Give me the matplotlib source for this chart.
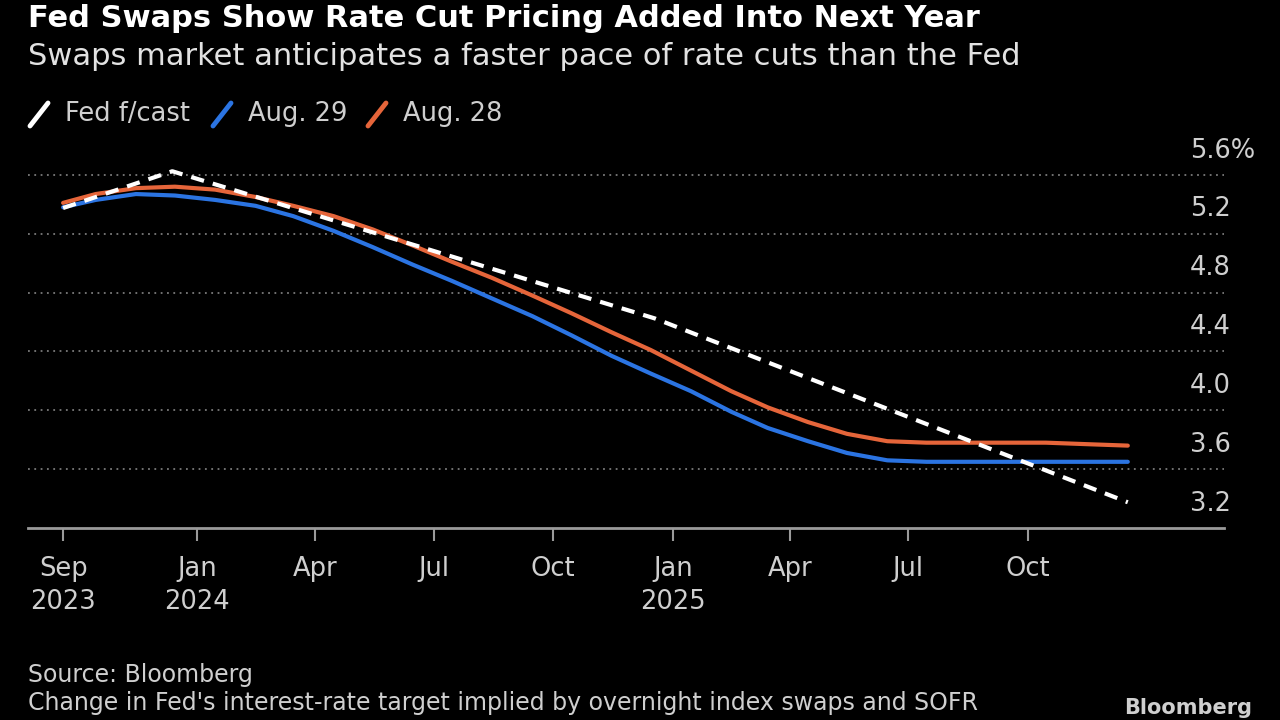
import numpy as np
import matplotlib
matplotlib.use("Agg")
import matplotlib.pyplot as plt
import matplotlib.dates as mdates
from matplotlib.lines import Line2D
from datetime import date

plt.rcParams['font.family'] = ['DejaVu Sans']

# ---- data ----
curve_dates = [date(2023, 9, 20), date(2023, 10, 15), date(2023, 11, 15), date(2023, 12, 15),
               date(2024, 1, 15), date(2024, 2, 15), date(2024, 3, 15), date(2024, 4, 15),
               date(2024, 5, 15), date(2024, 6, 15), date(2024, 7, 15), date(2024, 8, 15),
               date(2024, 9, 15), date(2024, 10, 15), date(2024, 11, 15), date(2024, 12, 15),
               date(2025, 1, 15), date(2025, 2, 15), date(2025, 3, 15), date(2025, 4, 15),
               date(2025, 5, 15), date(2025, 6, 15), date(2025, 7, 15), date(2025, 8, 15),
               date(2025, 9, 15), date(2025, 10, 15), date(2025, 11, 15), date(2025, 12, 17)]
aug29 = [5.38, 5.43, 5.47, 5.46, 5.43, 5.39, 5.32, 5.22, 5.11, 4.99, 4.88, 4.76, 4.64, 4.51,
         4.37, 4.25, 4.13, 3.99, 3.88, 3.79, 3.71, 3.66, 3.65, 3.65, 3.65, 3.65, 3.65, 3.65]
aug28 = [5.41, 5.47, 5.51, 5.52, 5.50, 5.45, 5.39, 5.32, 5.23, 5.12, 5.01, 4.90, 4.78, 4.66,
         4.53, 4.41, 4.27, 4.13, 4.02, 3.92, 3.84, 3.79, 3.78, 3.78, 3.78, 3.78, 3.77, 3.76]

fed_dates = [date(2023, 9, 20), date(2023, 12, 13), date(2024, 12, 18), date(2025, 12, 17)]
fed_fcast = [5.375, 5.625, 4.625, 3.375]

y_ticks = [3.2, 3.6, 4.0, 4.4, 4.8, 5.2, 5.6]
y_labels = ['3.2', '3.6', '4.0', '4.4', '4.8', '5.2', '5.6%']
x_ticks = [date(2023, 9, 20), date(2024, 1, 1), date(2024, 4, 1), date(2024, 7, 1), date(2024, 10, 1),
           date(2025, 1, 1), date(2025, 4, 1), date(2025, 7, 1), date(2025, 10, 1)]
x_labels = ['Sep\n2023', 'Jan\n2024', 'Apr', 'Jul', 'Oct', 'Jan\n2025', 'Apr', 'Jul', 'Oct']

BG = '#000000'
BLUE = '#2b74e2'
ORANGE = '#e5653a'
GRID = '#7a7a7a'
TXT = '#cfcfcf'

fig = plt.figure(figsize=(12.8, 7.2), dpi=100, facecolor=BG)
ax = fig.add_axes([28 / 1280, 1 - 528 / 720, (1224 - 28) / 1280, (528 - 145.5) / 720])
ax.set_facecolor(BG)

ax.plot(curve_dates, aug28, color=ORANGE, lw=3.0, solid_capstyle='round',
        solid_joinstyle='round', zorder=3, clip_on=False)
ax.plot(curve_dates, aug29, color=BLUE, lw=3.0, solid_capstyle='round',
        solid_joinstyle='round', zorder=4, clip_on=False)
ax.plot(fed_dates, fed_fcast, color='white', lw=3.0, dashes=(3.2, 2.2), zorder=5, clip_on=False)

ax.set_xlim(date(2023, 8, 24), date(2026, 3, 1))
ax.set_ylim(3.2, 5.8)

# dotted gridlines
for v in y_ticks[1:]:
    ax.axhline(v, color=GRID, lw=1.3, ls=(0, (1, 2.5)), zorder=1)

for s in ['top', 'right', 'left']:
    ax.spines[s].set_visible(False)
ax.spines['bottom'].set_color('#9a9a9a')
ax.spines['bottom'].set_linewidth(2)

ax.set_yticks([])
for v, lab in zip(y_ticks, y_labels):
    ax.annotate(lab, xy=(1, v), xycoords=('axes fraction', 'data'),
                xytext=(-24.5, 17.5), textcoords='offset points',
                ha='left', va='center', color=TXT, fontsize=18.5)

ax.set_xticks(mdates.date2num(x_ticks))
ax.set_xticklabels(x_labels, color=TXT, fontsize=18.5, linespacing=1.35)
ax.tick_params(axis='x', length=9, width=1.5, color='#9a9a9a', pad=11)

# title block
fig.text(28 / 1280, 1 - 27 / 720, 'Fed Swaps Show Rate Cut Pricing Added Into Next Year',
         color='white', fontsize=22, fontweight='bold', ha='left', va='baseline')
fig.text(28 / 1280, 1 - 65 / 720, 'Swaps market anticipates a faster pace of rate cuts than the Fed',
         color='#e2e2e2', fontsize=22, ha='left', va='baseline')

# legend
legend_items = [('Fed f/cast', 'white', 30), ('Aug. 29', BLUE, 213), ('Aug. 28', ORANGE, 368)]
for lab, col, x0 in legend_items:
    fig.add_artist(Line2D([x0 / 1280, (x0 + 18) / 1280], [1 - 126 / 720, 1 - 103 / 720],
                          color=col, lw=3.5, solid_capstyle='round', transform=fig.transFigure))
    fig.text((x0 + 35) / 1280, 1 - 114 / 720, lab, color=TXT, fontsize=18.5, ha='left', va='center')

# footer
fig.text(28 / 1280, 1 - 682 / 720, 'Source: Bloomberg', color=TXT, fontsize=17, ha='left', va='baseline')
fig.text(28 / 1280, 1 - 710 / 720,
         "Change in Fed's interest-rate target implied by overnight index swaps and SOFR",
         color=TXT, fontsize=17, ha='left', va='baseline')
fig.text(1252 / 1280, 1 - 714 / 720, 'Bloomberg', color=TXT, fontsize=15, fontweight='bold',
         ha='right', va='baseline')

fig.savefig('out.png', dpi=100, facecolor=BG)
